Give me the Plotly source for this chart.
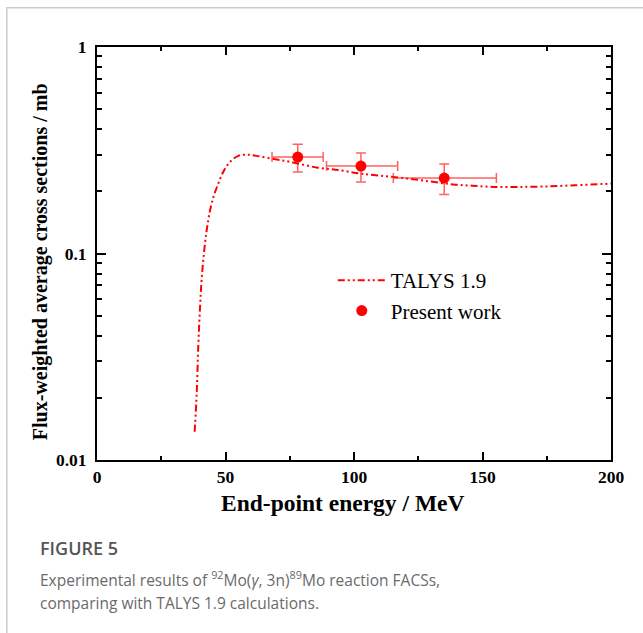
import plotly.graph_objects as go

# TALYS 1.9 calculation
talys_energy = [38.0, 38.8, 39.4, 40.1, 40.7, 41.6, 42.7, 44.0, 45.3, 47.2, 49.1, 51.8, 55.0, 58.2, 62.1,
                67.9, 75.1, 85.4, 94.5, 102.3, 110.1, 120.4, 130.0, 138.6, 146.0, 154.1, 163.0, 173.6, 186.0, 200.0]
talys_xs = [0.0137, 0.0211, 0.0354, 0.0552, 0.0743, 0.100, 0.130, 0.162, 0.188, 0.218, 0.248, 0.278, 0.297, 0.301, 0.297,
            0.288, 0.278, 0.261, 0.253, 0.244, 0.238, 0.231, 0.223, 0.216, 0.213, 0.210, 0.210, 0.211, 0.214, 0.218]

# Present work
exp_energy = [78.1, 102.7, 135.1]
exp_xs = [0.293, 0.265, 0.232]
exp_x_minus = [10.0, 13.4, 19.8]
exp_x_plus = [9.9, 14.3, 20.3]
exp_y_plus = [0.045, 0.042, 0.039]
exp_y_minus = [0.045, 0.043, 0.039]

x_tickvals = [0, 50, 100, 150, 200]
x_minor = [25, 75, 125, 175]
y_tickvals = [0.01, 0.1, 1]
y_ticktext = ["0.01", "0.1", "1"]
y_minor = [m * d for d in (0.01, 0.1) for m in range(2, 10)]

serif = "Liberation Serif"
red = "#ff0000"
err_col = "rgba(255,30,30,0.7)"

fig = go.Figure()
fig.add_trace(go.Scatter(
    x=talys_energy, y=talys_xs, mode="lines", name="TALYS 1.9",
    line=dict(color=red, width=2, dash="7px,3px,2px,3px,2px,3px", shape="spline"),
))
fig.add_trace(go.Scatter(
    x=exp_energy, y=exp_xs, mode="markers", name="Present work",
    marker=dict(color=red, size=11, symbol="circle"),
    error_x=dict(type="data", symmetric=False, array=exp_x_plus, arrayminus=exp_x_minus,
                 color=err_col, thickness=1.5, width=5),
    error_y=dict(type="data", symmetric=False, array=exp_y_plus, arrayminus=exp_y_minus,
                 color=err_col, thickness=1.5, width=5),
))

axis_common = dict(showline=True, linecolor="black", linewidth=2, mirror="allticks",
                   ticks="inside", tickcolor="black", tickwidth=2, showgrid=False, zeroline=False,
                   tickfont=dict(family=serif, size=17.5, color="black", weight="bold"))

fig.update_xaxes(range=[0, 200], tickmode="array", tickvals=x_tickvals, ticklen=8,
                 minor=dict(tickmode="array", tickvals=x_minor, ticks="inside", ticklen=4,
                            tickcolor="black", tickwidth=2),
                 **axis_common)
fig.update_yaxes(type="log", range=[-2, 0], tickmode="array", tickvals=y_tickvals, ticktext=y_ticktext,
                 ticklen=9, ticklabelstandoff=5,
                 minor=dict(tickmode="array", tickvals=y_minor, ticks="inside", ticklen=5,
                            tickcolor="black", tickwidth=2),
                 **axis_common)

# axis titles
fig.add_annotation(xref="paper", yref="paper", x=0.478, y=-0.104, xanchor="center", yanchor="middle",
                   showarrow=False, text="End-point energy / MeV",
                   font=dict(family=serif, size=23.5, color="black", weight="bold"))
fig.add_annotation(xref="paper", yref="paper", x=-0.1108, y=0.479, xanchor="center", yanchor="middle",
                   showarrow=False, textangle=-90, text="Flux-weighted average cross sections / mb",
                   font=dict(family=serif, size=20, color="black", weight="bold"))

# card frame
fig.add_shape(type="rect", xref="paper", yref="paper", x0=-0.1755, x1=1.3, y0=-0.6, y1=1.095,
              line=dict(color="#cccccc", width=1.5), fillcolor="rgba(0,0,0,0)", layer="below")

cap_font = dict(family="Open Sans", size=15.5, color="#6a6a6a")
cap_x = -0.1147
fig.add_annotation(xref="paper", yref="paper", x=cap_x, y=-0.213, xanchor="left", yanchor="middle",
                   showarrow=False, text="FIGURE 5",
                   font=dict(family="Open Sans", size=18, color="#555555", weight=600))
fig.add_annotation(xref="paper", yref="paper", x=cap_x, y=-0.288, xanchor="left", yanchor="middle",
                   showarrow=False,
                   text="Experimental results of <sup>92</sup>Mo(<i>γ</i>, 3n)<sup>89</sup>Mo reaction FACSs,",
                   font=cap_font)
fig.add_annotation(xref="paper", yref="paper", x=cap_x, y=-0.346, xanchor="left", yanchor="middle",
                   showarrow=False, text="comparing with TALYS 1.9 calculations.", font=cap_font)

fig.update_layout(
    width=643, height=633,
    margin=dict(l=97, r=31.5, t=46.7, b=173),
    paper_bgcolor="white", plot_bgcolor="white",
    showlegend=True,
    legend=dict(x=0.4587, y=0.484, xanchor="left", yanchor="top", bgcolor="rgba(0,0,0,0)",
                font=dict(family=serif, size=21, color="black"), itemwidth=48),
)

fig.write_html("out.html", config={"displayModeBar": False},
               post_script="document.body.style.margin='0';")
